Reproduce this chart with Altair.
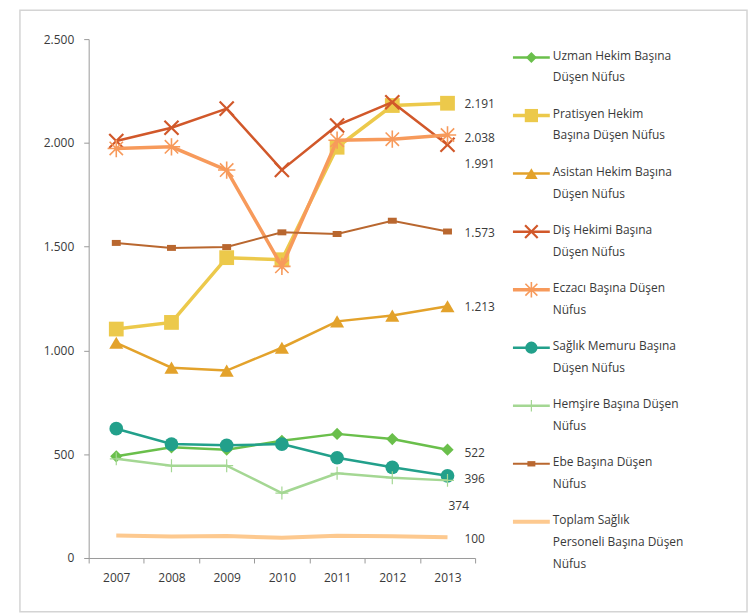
import altair as alt
import pandas as pd

years = [2007, 2008, 2009, 2010, 2011, 2012, 2013]

names = [
    "Uzman Hekim Başına Düşen Nüfus",
    "Pratisyen Hekim Başına Düşen Nüfus",
    "Asistan Hekim Başına Düşen Nüfus",
    "Diş Hekimi Başına Düşen Nüfus",
    "Eczacı Başına Düşen Nüfus",
    "Sağlık Memuru Başına Düşen Nüfus",
    "Hemşire Başına Düşen Nüfus",
    "Ebe Başına Düşen Nüfus",
    "Toplam Sağlık Personeli Başına Düşen Nüfus",
]
legend_labels = [
    "Uzman Hekim Başına\nDüşen Nüfus",
    "Pratisyen Hekim\nBaşına Düşen Nüfus",
    "Asistan Hekim Başına\nDüşen Nüfus",
    "Diş Hekimi Başına\nDüşen Nüfus",
    "Eczacı Başına Düşen\nNüfus",
    "Sağlık Memuru Başına\nDüşen Nüfus",
    "Hemşire Başına Düşen\nNüfus",
    " Ebe Başına Düşen\nNüfus",
    "Toplam Sağlık\nPersoneli Başına Düşen\nNüfus",
]

uzman = [490, 533, 522, 565, 598, 573, 522]
pratisyen = [1103, 1135, 1447, 1437, 1979, 2180, 2191]
asistan = [1037, 917, 903, 1013, 1140, 1168, 1213]
dis = [2009, 2073, 2165, 1870, 2084, 2196, 1991]
eczaci = [1973, 1981, 1869, 1405, 2013, 2018, 2038]
saglik = [623, 549, 543, 549, 483, 437, 396]
hemsire = [478, 445, 445, 313, 408, 387, 374]
ebe = [1518, 1494, 1498, 1569, 1561, 1625, 1573]
toplam = [108, 104, 106, 97, 107, 105, 100]
values = [uzman, pratisyen, asistan, dis, eczaci, saglik, hemsire, ebe, toplam]

end_labels = ["522", "2.191", "1.213", "1.991", "2.038", "396", "374", "1.573", "100"]

colors = ["#6abf4b", "#ecc94b", "#e3a22b", "#d1582a", "#f79a5b",
          "#22a08b", "#a4d793", "#b9672f", "#fdc98f"]
line_widths = [2.5, 3.5, 2.5, 2.5, 3.5, 2.5, 2.5, 2, 4]

X_PATH = "M-1,-1L1,1M-1,1L1,-1"
AST_PATH = "M-1,-1L1,1M-1,1L1,-1M0,-1.3L0,1.3M-1.3,0L1.3,0"
PLUS_PATH = "M0,-1L0,1M-1,0L1,0"
RECT_PATH = "M-1,-0.67L1,-0.67L1,0.67L-1,0.67Z"
# (shape, filled, size, strokeWidth)
markers = [
    ("diamond", True, 150, 0),
    ("square", True, 220, 0),
    ("triangle-up", True, 200, 0),
    (X_PATH, False, 200, 2.2),
    (AST_PATH, False, 180, 1.6),
    ("circle", True, 190, 0),
    (PLUS_PATH, False, 170, 1.2),
    (RECT_PATH, True, 80, 0),
    (None, None, None, None),
]
label_offsets = [(17, 3), (17, 1), (17, 1), (17, 19), (17, 3), (17, 3), (1, 26), (17, 2), (17, 2)]

FONT = "Open Sans"
TEXT_COLOR = "#3a3a3a"

x_enc = alt.X(
    "year:O",
    scale=alt.Scale(type="band", paddingInner=0, paddingOuter=0),
    axis=alt.Axis(title=None, labelAngle=0, tickBand="extent", tickSize=5,
                  labelPadding=10, domainColor="#999", tickColor="#999"),
)
y_enc = alt.Y(
    "value:Q",
    scale=alt.Scale(domain=[0, 2500], nice=False),
    axis=alt.Axis(title=None, values=[0, 500, 1000, 1500, 2000, 2500], grid=False,
                  tickSize=5, labelPadding=10, domainColor="#999", tickColor="#999",
                  labelExpr="replace(format(datum.value, ','), ',', '.')"),
)

frame = alt.Chart(pd.DataFrame({"a": [0]})).mark_rect(
    fillOpacity=0, stroke="#d4d4d4", strokeWidth=1.5
).encode(x=alt.value(-69), x2=alt.value(661), y=alt.value(-29), y2=alt.value(575))

layers = [frame]
for i, name in enumerate(names):
    df = pd.DataFrame({"year": years, "value": values[i], "series": name})
    base = alt.Chart(df).encode(x=x_enc, y=y_enc)
    layers.append(base.mark_line(color=colors[i], strokeWidth=line_widths[i]))
    shape, filled, size, sw = markers[i]
    if shape is not None:
        if filled:
            pt = base.mark_point(shape=shape, filled=True, size=size, color=colors[i], opacity=1)
        else:
            pt = base.mark_point(shape=shape, filled=False, size=size, color=colors[i],
                                 strokeWidth=sw, opacity=1)
        layers.append(pt)
    ldf = pd.DataFrame({"year": [years[-1]], "value": [values[i][-1]], "txt": [end_labels[i]]})
    dx, dy = label_offsets[i]
    layers.append(
        alt.Chart(ldf).mark_text(align="left", baseline="middle", dx=dx, dy=dy,
                                 font=FONT, fontSize=12, color=TEXT_COLOR)
        .encode(x=x_enc, y=y_enc, text="txt:N")
    )

main = alt.layer(*layers).properties(width=388, height=521)

leg_y = alt.Y("series:N",
              scale=alt.Scale(type="point", domain=names, range=[18.5, 484.7], padding=0),
              axis=None)
leg_layers = []
for i, name in enumerate(names):
    ldf = pd.DataFrame({"series": [name], "label": [legend_labels[i]]})
    lb = alt.Chart(ldf).encode(y=leg_y)
    leg_layers.append(lb.mark_rule(color=colors[i], strokeWidth=line_widths[i])
                      .encode(x=alt.value(0), x2=alt.value(37)))
    shape, filled, size, sw = markers[i]
    if shape is not None:
        if filled:
            pt = lb.mark_point(shape=shape, filled=True, size=size * 0.8, color=colors[i], opacity=1)
        else:
            pt = lb.mark_point(shape=shape, filled=False, size=size * 0.8, color=colors[i],
                               strokeWidth=sw, opacity=1)
        leg_layers.append(pt.encode(x=alt.value(18.5)))
    leg_layers.append(
        lb.mark_text(align="left", baseline="top", dy=-7, lineBreak="\n", lineHeight=22,
                     font=FONT, fontSize=12, color=TEXT_COLOR)
        .encode(x=alt.value(40), text="label:N")
    )
legend = alt.layer(*leg_layers).properties(width=220, height=521)

chart = (
    alt.hconcat(main, legend, spacing=38, bounds="flush")
    .properties(padding={"left": 11, "top": 0, "right": 0, "bottom": 0})
    .configure_view(stroke=None)
    .configure_axis(labelFont=FONT, labelFontSize=12, labelColor=TEXT_COLOR)
)

chart.save("out.html", embed_options={"renderer": "svg", "actions": False})
